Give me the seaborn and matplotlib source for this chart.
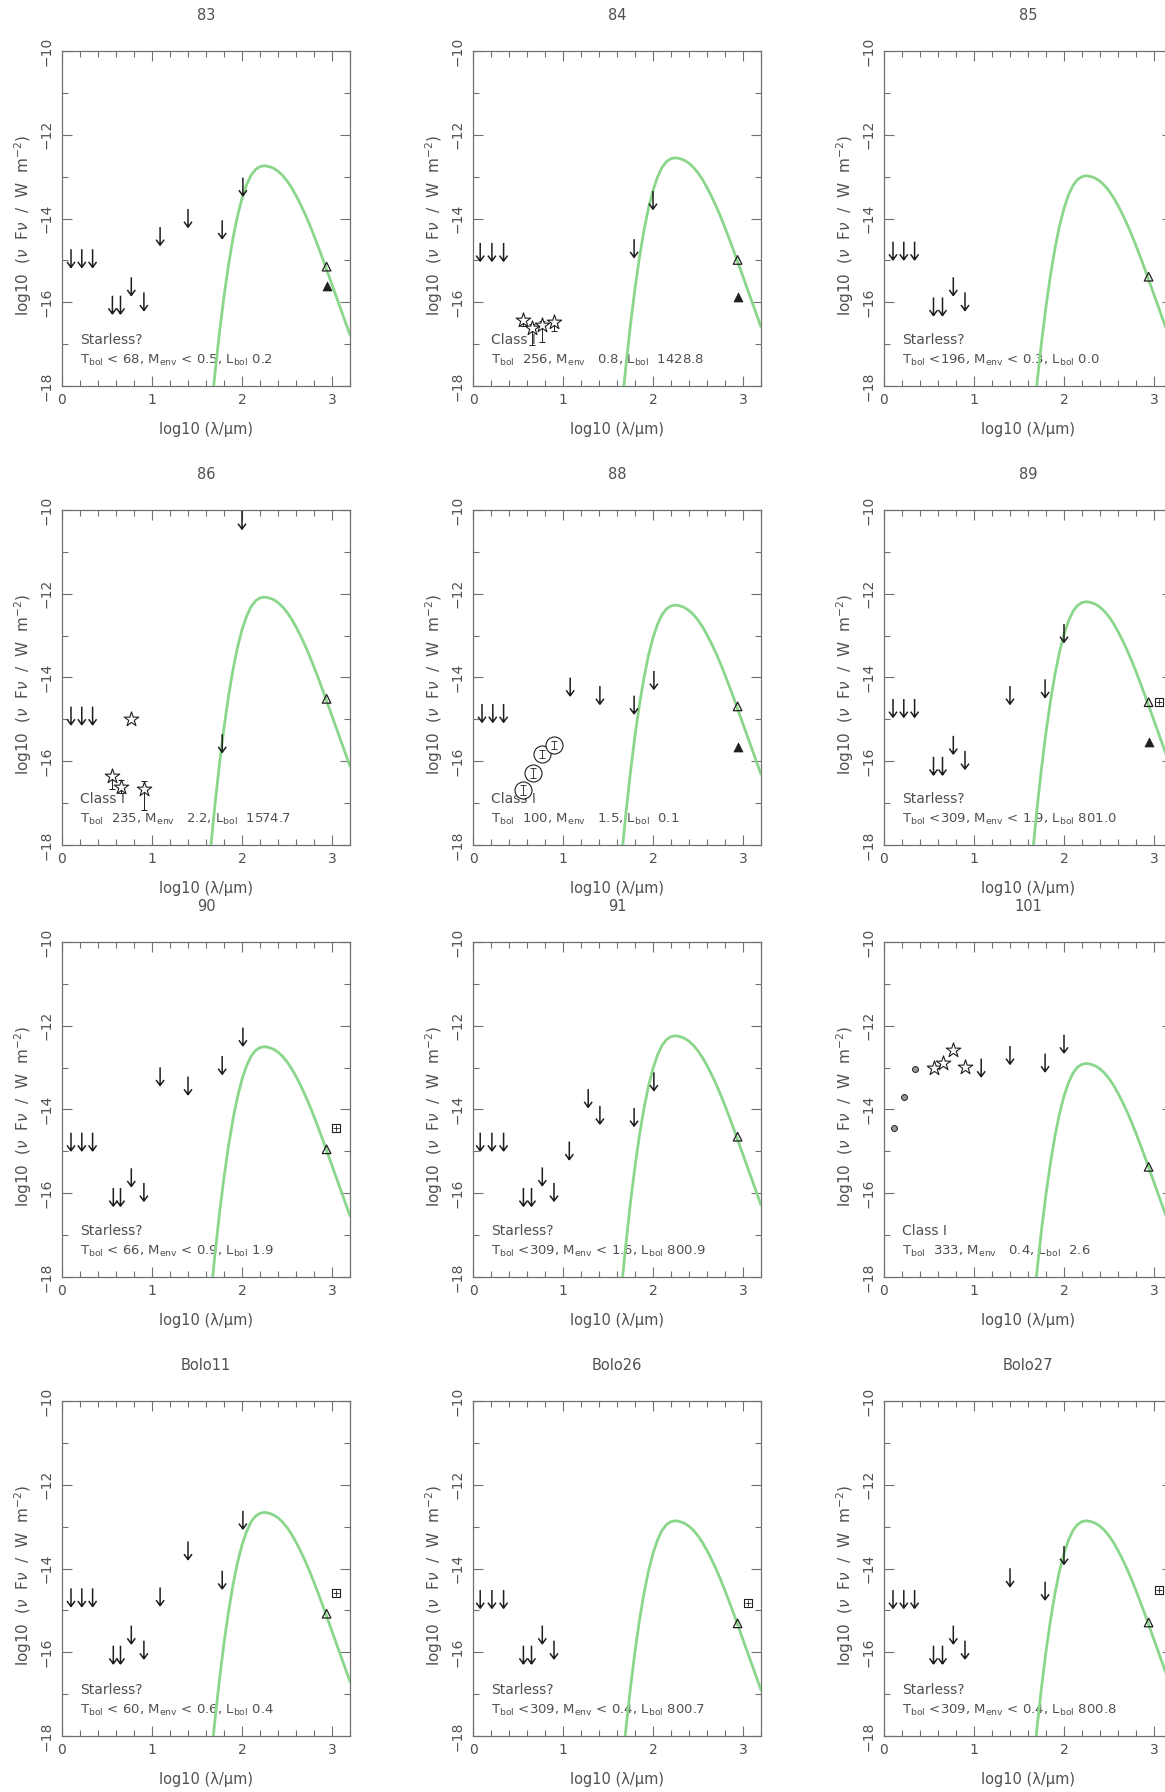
import matplotlib
matplotlib.use("Agg")
import matplotlib.pyplot as plt
import seaborn as sns
from matplotlib.path import Path
from matplotlib.ticker import MultipleLocator

# ---------------------------------------------------------------- data
# Shared greybody template: log10(lambda/um) and drop below the peak (dex)
sed_x = [1.65, 1.70, 1.75, 1.80, 1.85, 1.90, 1.95, 2.00, 2.05, 2.10, 2.15, 2.20,
         2.25, 2.30, 2.35, 2.40, 2.45, 2.50, 2.55, 2.60, 2.65, 2.70, 2.75, 2.80,
         2.85, 2.90, 2.95, 3.00, 3.05, 3.10, 3.15, 3.20]
sed_shape = [-6.03, -4.95, -3.98, -3.12, -2.37, -1.73, -1.20, -0.78, -0.46, -0.23,
             -0.09, -0.02, 0.00, -0.02, -0.06, -0.13, -0.23, -0.36, -0.52, -0.71,
             -0.92, -1.15, -1.40, -1.67, -1.95, -2.24, -2.54, -2.84, -3.14, -3.44,
             -3.74, -4.04]

names = ["83", "84", "85", "86", "88", "89", "90", "91", "101",
         "Bolo11", "Bolo26", "Bolo27"]
peaks = [-12.74, -12.55, -12.98, -12.08, -12.27, -12.19, -12.50, -12.24, -12.90,
         -12.66, -12.86, -12.86]
classes = ["Starless?", "Class I", "Starless?", "Class I", "Class I", "Starless?",
           "Starless?", "Starless?", "Class I", "Starless?", "Starless?", "Starless?"]
props = [
    r"T$_{\mathrm{bol}}$ < 68, M$_{\mathrm{env}}$ < 0.5, L$_{\mathrm{bol}}$ 0.2",
    r"T$_{\mathrm{bol}}$  256, M$_{\mathrm{env}}$   0.8, L$_{\mathrm{bol}}$  1428.8",
    r"T$_{\mathrm{bol}}$ <196, M$_{\mathrm{env}}$ < 0.3, L$_{\mathrm{bol}}$ 0.0",
    r"T$_{\mathrm{bol}}$  235, M$_{\mathrm{env}}$   2.2, L$_{\mathrm{bol}}$  1574.7",
    r"T$_{\mathrm{bol}}$  100, M$_{\mathrm{env}}$   1.5, L$_{\mathrm{bol}}$  0.1",
    r"T$_{\mathrm{bol}}$ <309, M$_{\mathrm{env}}$ < 1.9, L$_{\mathrm{bol}}$ 801.0",
    r"T$_{\mathrm{bol}}$ < 66, M$_{\mathrm{env}}$ < 0.9, L$_{\mathrm{bol}}$ 1.9",
    r"T$_{\mathrm{bol}}$ <309, M$_{\mathrm{env}}$ < 1.6, L$_{\mathrm{bol}}$ 800.9",
    r"T$_{\mathrm{bol}}$  333, M$_{\mathrm{env}}$   0.4, L$_{\mathrm{bol}}$  2.6",
    r"T$_{\mathrm{bol}}$ < 60, M$_{\mathrm{env}}$ < 0.6, L$_{\mathrm{bol}}$ 0.4",
    r"T$_{\mathrm{bol}}$ <309, M$_{\mathrm{env}}$ < 0.4, L$_{\mathrm{bol}}$ 800.7",
    r"T$_{\mathrm{bol}}$ <309, M$_{\mathrm{env}}$ < 0.4, L$_{\mathrm{bol}}$ 800.8",
]

# Upper limits (arrows)
ul83_x = [0.10, 0.22, 0.34, 0.56, 0.65, 0.77, 0.91, 1.09, 1.40, 1.78, 2.01]
ul83_y = [-14.95, -14.95, -14.95, -16.06, -16.06, -15.62, -15.98, -14.42, -13.99, -14.26, -13.24]
ul84_x = [0.08, 0.21, 0.34, 1.79, 2.00]
ul84_y = [-14.80, -14.80, -14.80, -14.71, -13.56]
ul85_x = [0.10, 0.22, 0.34, 0.55, 0.65, 0.77, 0.90]
ul85_y = [-14.77, -14.77, -14.77, -16.10, -16.10, -15.62, -15.98]
ul86_x = [0.10, 0.22, 0.34, 1.78, 2.00]
ul86_y = [-14.91, -14.91, -14.91, -15.57, -10.24]
ul88_x = [0.10, 0.22, 0.34, 1.08, 1.41, 1.79, 2.01]
ul88_y = [-14.85, -14.85, -14.85, -14.22, -14.42, -14.65, -14.06]
ul89_x = [0.10, 0.22, 0.34, 0.55, 0.65, 0.77, 0.90, 1.40, 1.79, 2.00]
ul89_y = [-14.73, -14.73, -14.73, -16.11, -16.11, -15.61, -15.97, -14.42, -14.26, -12.94]
ul90_x = [0.10, 0.22, 0.34, 0.57, 0.65, 0.77, 0.91, 1.09, 1.40, 1.78, 2.01]
ul90_y = [-14.77, -14.77, -14.77, -16.09, -16.09, -15.62, -15.97, -13.21, -13.43, -12.94, -12.26]
ul91_x = [0.08, 0.21, 0.34, 0.56, 0.65, 0.77, 0.90, 1.07, 1.28, 1.41, 1.79, 2.01]
ul91_y = [-14.77, -14.77, -14.77, -16.09, -16.09, -15.60, -15.97, -14.98, -13.73, -14.13, -14.18, -13.33]
ul101_x = [1.08, 1.40, 1.79, 2.00]
ul101_y = [-13.00, -12.70, -12.88, -12.43]
ulB11_x = [0.10, 0.22, 0.34, 0.57, 0.65, 0.77, 0.91, 1.09, 1.40, 1.78, 2.01]
ulB11_y = [-14.69, -14.69, -14.69, -16.06, -16.06, -15.58, -15.94, -14.67, -13.57, -14.27, -12.84]
ulB26_x = [0.08, 0.21, 0.34, 0.56, 0.65, 0.77, 0.90]
ulB26_y = [-14.73, -14.73, -14.73, -16.06, -16.06, -15.58, -15.94]
ulB27_x = [0.10, 0.22, 0.34, 0.55, 0.65, 0.77, 0.90, 1.40, 1.79, 2.00]
ulB27_y = [-14.73, -14.73, -14.73, -16.06, -16.06, -15.58, -15.94, -14.21, -14.53, -13.68]

# 850 um fluxes (open triangles) and peak-flux values (filled triangles)
tri_x = 2.94
open_tri_y = [-15.15, -14.99, -15.39, -14.51, -14.69, -14.59, -14.95, -14.65, -15.37,
              -15.08, -15.31, -15.29]
fill_tri_y = {"83": -15.60, "84": -15.88, "88": -15.67, "89": -15.54}

# 1.1 mm fluxes (boxed squares)
sq_x = 3.05
sq_y = {"89": -14.59, "90": -14.45, "Bolo11": -14.59, "Bolo26": -14.83, "Bolo27": -14.51}

# Detections with error bars
st84_x = [0.56, 0.65, 0.77, 0.90]
st84_y = [-16.42, -16.62, -16.54, -16.48]
st84_lo = [0.15, 0.40, 0.40, 0.20]
st84_up = [0.05, 0.10, 0.10, 0.05]
st86_x = [0.56, 0.66, 0.77, 0.91]
st86_y = [-16.36, -16.62, -15.00, -16.67]
st86_lo = [0.30, 0.15, 0.00, 0.49]
st86_up = [0.05, 0.17, 0.00, 0.21]
ci88_x = [0.56, 0.67, 0.77, 0.90]
ci88_y = [-16.68, -16.27, -15.82, -15.61]
ci88_err = [0.12, 0.12, 0.10, 0.10]
dot101_x = [0.11, 0.22, 0.34]
dot101_y = [-14.43, -13.69, -13.04]
st101_x = [0.56, 0.66, 0.77, 0.90]
st101_y = [-13.02, -12.90, -12.59, -12.98]

upper_limits = {"83": (ul83_x, ul83_y), "84": (ul84_x, ul84_y), "85": (ul85_x, ul85_y),
                "86": (ul86_x, ul86_y), "88": (ul88_x, ul88_y), "89": (ul89_x, ul89_y),
                "90": (ul90_x, ul90_y), "91": (ul91_x, ul91_y), "101": (ul101_x, ul101_y),
                "Bolo11": (ulB11_x, ulB11_y), "Bolo26": (ulB26_x, ulB26_y),
                "Bolo27": (ulB27_x, ulB27_y)}

# ---------------------------------------------------------------- style
sns.set_style("ticks")
plt.rcParams["font.family"] = ["DejaVu Sans"]
plt.rcParams["mathtext.fontset"] = "dejavusans"

ink = "#1e1e1e"
txt = "#505050"
frame = "#707070"
green = "#8ad68a"
FS = 10
FS_PROP = 9.5
FS_LAB = 10.5

# thin upper-limit arrow: shaft plus open arrow head
arrow = Path([(0, 0.5), (0, -0.5), (-0.22, -0.2), (0, -0.5), (0.22, -0.2)],
             [Path.MOVETO, Path.LINETO, Path.MOVETO, Path.LINETO, Path.LINETO])

W, H = 1165, 1792
col_left = [62, 473, 884]
row_top = [51, 510, 942, 1401]
ax_w, ax_h = 288, 335

fig = plt.figure(figsize=(W / 100, H / 100), dpi=100)
fig.patch.set_facecolor("white")

for i, name in enumerate(names):
    r, c = divmod(i, 3)
    ax = fig.add_axes([col_left[c] / W, 1 - (row_top[r] + ax_h) / H, ax_w / W, ax_h / H])
    ax.set_xlim(0, 3.2)
    ax.set_ylim(-18, -10)

    # model greybody
    sns.lineplot(x=sed_x, y=[peaks[i] + s for s in sed_shape], ax=ax, color=green,
                 lw=2.0, sort=False, zorder=4, legend=False)

    # upper limits
    ux, uy = upper_limits[name]
    sns.scatterplot(x=ux, y=uy, ax=ax, marker=arrow, s=170, facecolor="none",
                    edgecolor=ink, linewidth=1.1, zorder=6, legend=False)

    # sub-mm points
    sns.scatterplot(x=[tri_x], y=[open_tri_y[i]], ax=ax, marker="^", s=38,
                    facecolor="none", edgecolor=ink, linewidth=0.9, zorder=6, legend=False)
    if name in fill_tri_y:
        sns.scatterplot(x=[tri_x], y=[fill_tri_y[name]], ax=ax, marker="^", s=42,
                        color=ink, edgecolor=ink, linewidth=0.5, zorder=6, legend=False)
    if name in sq_y:
        sns.scatterplot(x=[sq_x], y=[sq_y[name]], ax=ax, marker="s", s=36,
                        facecolor="white", edgecolor=ink, linewidth=0.8, zorder=6, legend=False)
        sns.scatterplot(x=[sq_x], y=[sq_y[name]], ax=ax, marker="+", s=14,
                        color=ink, linewidth=0.6, zorder=7, legend=False)

    # detections
    if name == "84":
        ax.errorbar(st84_x, st84_y, yerr=[st84_lo, st84_up], fmt="none", ecolor=ink,
                    elinewidth=0.7, capsize=2.5, capthick=0.7, zorder=5)
        sns.scatterplot(x=st84_x, y=st84_y, ax=ax, marker="*", s=120, facecolor="white",
                        edgecolor=ink, linewidth=0.8, zorder=6, legend=False)
    if name == "86":
        ax.errorbar(st86_x, st86_y, yerr=[st86_lo, st86_up], fmt="none", ecolor=ink,
                    elinewidth=0.7, capsize=2.5, capthick=0.7, zorder=5)
        sns.scatterplot(x=st86_x, y=st86_y, ax=ax, marker="*", s=120, facecolor="white",
                        edgecolor=ink, linewidth=0.8, zorder=6, legend=False)
    if name == "88":
        sns.scatterplot(x=ci88_x, y=ci88_y, ax=ax, marker="o", s=150, facecolor="white",
                        edgecolor=ink, linewidth=0.8, zorder=5, legend=False)
        ax.errorbar(ci88_x, ci88_y, yerr=ci88_err, fmt="none", ecolor=ink,
                    elinewidth=0.6, capsize=2, capthick=0.6, zorder=6)
    if name == "101":
        sns.scatterplot(x=dot101_x, y=dot101_y, ax=ax, marker="o", s=18, facecolor="#9a9a9a",
                        edgecolor=ink, linewidth=0.7, zorder=6, legend=False)
        sns.scatterplot(x=st101_x, y=st101_y, ax=ax, marker="*", s=120, facecolor="white",
                        edgecolor=ink, linewidth=0.8, zorder=6, legend=False)

    # classification text
    ax.text(0.2, -16.9, classes[i], fontsize=FS, color=txt, va="center", ha="left", zorder=3)
    ax.text(0.2, -17.38, props[i], fontsize=FS_PROP, color=txt, va="center", ha="left",
            zorder=3)

    # axes decoration
    ax.xaxis.set_major_locator(MultipleLocator(1))
    ax.xaxis.set_minor_locator(MultipleLocator(0.2))
    ax.yaxis.set_major_locator(MultipleLocator(2))
    ax.yaxis.set_minor_locator(MultipleLocator(1))
    ax.tick_params(which="both", direction="in", top=True, right=True, colors=frame,
                   labelcolor=txt, labelsize=FS)
    ax.tick_params(which="major", length=7, width=0.8)
    ax.tick_params(which="minor", length=4, width=0.8)
    ax.tick_params(axis="y", labelrotation=90, pad=6)
    ax.tick_params(axis="x", pad=5)
    for lab in ax.get_yticklabels():
        lab.set_va("center")
    for sp in ax.spines.values():
        sp.set_color(frame)
        sp.set_linewidth(0.9)

    ax.set_xlabel("log10 (λ/μm)", fontsize=FS_LAB, color=txt)
    ax.xaxis.set_label_coords(0.5, -0.13)
    ax.xaxis.label.set_va("center")
    ax.set_ylabel(r"log10  ($\nu$  F$\nu$  /  W  m$^{-2}$)", fontsize=11, color=txt)
    ax.yaxis.set_label_coords(-0.135, 0.48)
    ax.yaxis.label.set_va("center")
    ax.text(0.5, 1.107, name, transform=ax.transAxes, ha="center", va="center",
            fontsize=FS_LAB, color=txt)

fig.savefig("out.png", dpi=100, facecolor="white")
